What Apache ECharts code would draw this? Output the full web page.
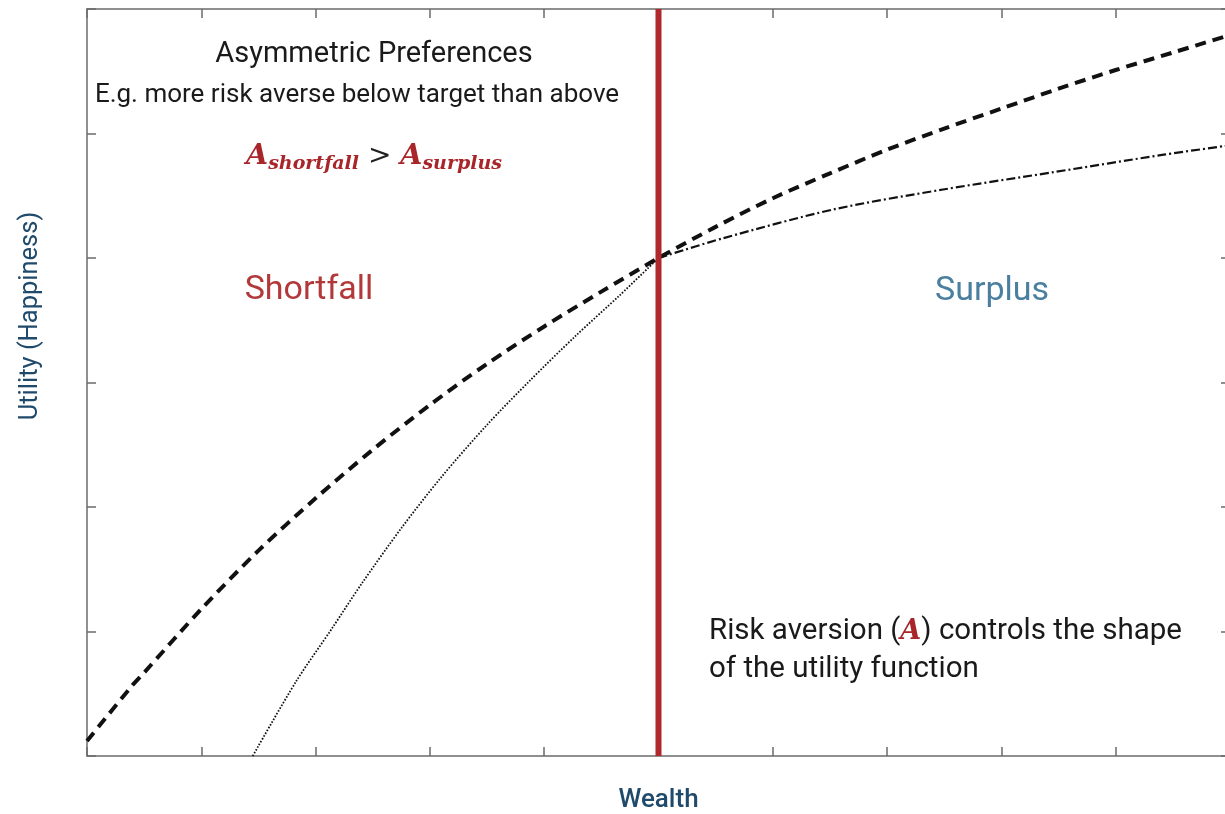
<!DOCTYPE html>
<html>
<head>
<meta charset="utf-8">
<script src="https://cdn.jsdelivr.net/npm/echarts@6/dist/echarts.min.js"></script>
<style>html,body{margin:0;padding:0;background:#fff;}#c{width:1225px;height:814px;}</style>
</head>
<body>
<div id="c"></div>
<script>
// Wealth (x) and utility (y) readings
const xTicks = [0,1,2,3,4,5,6,7,8,9,10];
const yTicks = [0,1,2,3,4,5,6];
const target = 5;
const targetLine = [[5, 0], [5, 6]];
// single risk-aversion utility (thick dashed)
const baseUtility = [[0,0.12],[0.39,0.56],[0.5,0.67],[1,1.18],[1.5,1.65],[2,2.07],[2.5,2.46],[3,2.82],[3.5,3.15],[4,3.45],[4.5,3.73],[5,4.0],[5.5,4.25],[6,4.48],[6.5,4.68],[7,4.87],[7.5,5.04],[8,5.2],[8.5,5.36],[9,5.51],[9.5,5.65],[9.96,5.78]];
// shortfall utility (dotted, more risk averse)
const shortfallUtility = [[1.45,0],[1.83,0.6],[2.14,1.02],[2.4,1.38],[2.75,1.83],[3.1,2.24],[3.5,2.66],[3.88,3.02],[4.27,3.37],[4.66,3.7],[5,4.0]];
// surplus utility (dash-dot, less risk averse)
const surplusUtility = [[5,4.0],[5.57,4.16],[6.53,4.39],[7.49,4.55],[8.46,4.69],[9.42,4.83],[9.96,4.9]];

const chart = echarts.init(document.getElementById('c'), null, {renderer: 'canvas'});
const frameColor = '#6b6b6b';
function axis(extra) {
  return Object.assign({
    type: 'value', min: 0,
    axisLine: {show: true, onZero: false, lineStyle: {color: frameColor, width: 1.5}},
    axisTick: {show: true, inside: true, length: 9, lineStyle: {color: frameColor, width: 1.5}},
    axisLabel: {show: false},
    splitLine: {show: false}
  }, extra);
}
const font = 'Roboto';
chart.setOption({
  animation: false,
  backgroundColor: '#ffffff',
  grid: {left: 87, top: 9, right: -5, bottom: 58, containLabel: false, outerBoundsMode: 'none'},
  xAxis: [
    axis({max: 10, interval: 1, position: 'bottom',
      name: 'Wealth', nameLocation: 'middle', nameGap: 31,
      nameTextStyle: {fontFamily: font, fontSize: 26, fontWeight: 500, color: '#1f4a6b'}}),
    axis({max: 10, interval: 1, position: 'top'})
  ],
  yAxis: [
    axis({max: 6, interval: 1, position: 'left'}),
    axis({max: 6, interval: 1, position: 'right'})
  ],
  series: [
    {type: 'line', data: baseUtility, smooth: 0.3, showSymbol: false, symbol: 'none',
      lineStyle: {color: '#111', width: 4, type: [11, 7]}, z: 3},
    {type: 'line', data: shortfallUtility, smooth: 0.3, showSymbol: false, symbol: 'none',
      lineStyle: {color: '#111', width: 1.8, type: [1.6, 1.6]}, z: 3},
    {type: 'line', data: surplusUtility, smooth: 0.3, showSymbol: false, symbol: 'none',
      lineStyle: {color: '#111', width: 2.2, type: [9, 3, 2, 3]}, z: 3},
    {type: 'line', data: targetLine, showSymbol: false, symbol: 'none',
      lineStyle: {color: '#b0282b', width: 6}, z: 5}
  ],
  graphic: [
    {type: 'text', x: 374, y: 55, style: {text: 'Asymmetric Preferences', fontFamily: font, fontSize: 29,
      fill: '#1a1a1a', textAlign: 'center', textVerticalAlign: 'middle'}},
    {type: 'text', x: 357, y: 95, style: {text: 'E.g. more risk averse below target than above', fontFamily: font, fontSize: 26,
      fill: '#1a1a1a', textAlign: 'center', textVerticalAlign: 'middle'}},
    {type: 'text', x: 374, y: 157, style: {
      text: '{a|A}{s|shortfall}{g| > }{a|A}{s|surplus}',
      textAlign: 'center', textVerticalAlign: 'middle',
      rich: {
        a: {fontFamily: 'DejaVu Serif', fontWeight: 'bold', fontStyle: 'italic', fontSize: 28.5, fill: '#a8262a', color: '#a8262a', lineHeight: 34, verticalAlign: 'middle'},
        s: {fontFamily: 'DejaVu Serif', fontWeight: 'bold', fontStyle: 'italic', fontSize: 19, fill: '#a8262a', color: '#a8262a', lineHeight: 20, verticalAlign: 'bottom'},
        g: {fontFamily: 'DejaVu Serif', fontSize: 28, fill: '#222', color: '#222', lineHeight: 34, verticalAlign: 'middle'}
      }}},
    {type: 'text', x: 309, y: 290, style: {text: 'Shortfall', fontFamily: font, fontSize: 34,
      fill: '#b2383a', textAlign: 'center', textVerticalAlign: 'middle'}},
    {type: 'text', x: 992, y: 291, style: {text: 'Surplus', fontFamily: font, fontSize: 34,
      fill: '#4a7f9f', textAlign: 'center', textVerticalAlign: 'middle'}},
    {type: 'text', x: 709, y: 651, style: {
      text: '{t|Risk aversion (}{a|A}{t|) controls the shape}\n{t|of the utility function}',
      textAlign: 'left', textVerticalAlign: 'middle',
      rich: {
        t: {fontFamily: font, fontSize: 29.5, fill: '#1a1a1a', color: '#1a1a1a', lineHeight: 38},
        a: {fontFamily: 'DejaVu Serif', fontWeight: 'bold', fontStyle: 'italic', fontSize: 27, fill: '#a8262a', color: '#a8262a', lineHeight: 38}
      }}},
    {type: 'text', x: 31, y: 316, rotation: Math.PI / 2, style: {text: 'Utility (Happiness)', fontFamily: font, fontSize: 25.5,
      fill: '#1f4a6b', textAlign: 'center', textVerticalAlign: 'middle'}}
  ]
});
</script>
</body>
</html>
